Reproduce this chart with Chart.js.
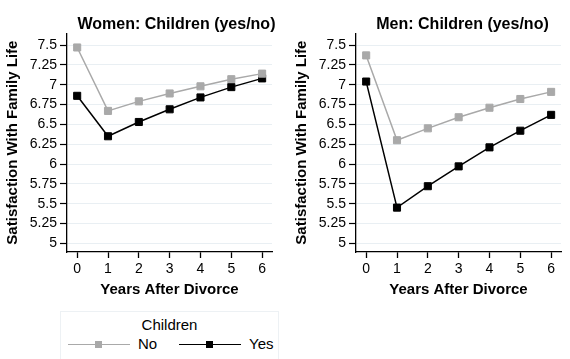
<!DOCTYPE html>
<html>
<head>
<meta charset="utf-8">
<script src="https://cdn.jsdelivr.net/npm/chart.js@4.4.1/dist/chart.umd.min.js"></script>
<style>
  body { margin: 0; background: #fff; width: 570px; height: 359px; overflow: hidden; position: relative;
         font-family: 'Liberation Sans', Arial, Helvetica, sans-serif; color: #000; }
  .panel { position: absolute; top: 0; width: 281px; height: 300px; }
  #legend { position: absolute; left: 60px; top: 311px; width: 219px; height: 60px;
            border: 1px solid #edf1f4; box-sizing: border-box; }
  #legend .ltitle { position: absolute; left: 0; width: 100%; top: 4px; text-align: center; font-size: 15px; }
  #legend .item { position: absolute; top: 23px; font-size: 15px; line-height: 18px; }
  #legend .line { position: absolute; top: 9px; width: 62px; height: 0; border-top: 1.5px solid; }
  #legend .mk { position: absolute; left: 27px; top: -4.5px; width: 7px; height: 7px; }
</style>
</head>
<body>
<div class="panel" style="left:0"><canvas id="women"></canvas></div>
<div class="panel" style="left:289px"><canvas id="men"></canvas></div>
<div id="legend"></div>

<script>
// data
const years = [0, 1, 2, 3, 4, 5, 6];
const yTicks = [5, 5.25, 5.5, 5.75, 6, 6.25, 6.5, 6.75, 7, 7.25, 7.5];
const seriesNames = ['No', 'Yes'];
const seriesColors = ['#a9a9a9', '#000000'];

const womenNo  = [7.47, 6.67, 6.79, 6.89, 6.98, 7.07, 7.14];
const womenYes = [6.86, 6.35, 6.53, 6.69, 6.84, 6.97, 7.08];
const menNo    = [7.37, 6.30, 6.45, 6.59, 6.71, 6.82, 6.91];
const menYes   = [7.04, 5.45, 5.72, 5.97, 6.21, 6.42, 6.62];

const FONT = "'Liberation Sans', Arial, Helvetica, sans-serif";

// nudge the title box sideways a little (the original titles sit right of centre)
const titleShift = {
  id: 'titleShift',
  afterLayout(chart, args, opts) {
    const tb = chart.titleBlock;
    if (tb && opts.dx) { tb.left += opts.dx; tb.right += opts.dx; }
  }
};

function toPoints(vals) {
  return vals.map((v, i) => ({ x: years[i], y: v }));
}

function makeDataset(i, vals) {
  return {
    label: seriesNames[i],
    data: toPoints(vals),
    borderColor: seriesColors[i],
    backgroundColor: seriesColors[i],
    borderWidth: 1.5,
    pointStyle: 'rect',
    pointRadius: 5,
    pointBorderWidth: 1,
    tension: 0
  };
}

function makeChart(id, title, noVals, yesVals, dx) {
  return new Chart(document.getElementById(id), {
    type: 'line',
    data: {
      datasets: [makeDataset(0, noVals), makeDataset(1, yesVals)]
    },
    plugins: [titleShift],
    options: {
      responsive: true,
      maintainAspectRatio: false,
      animation: false,
      layout: { padding: { left: 0, right: 9, top: 0, bottom: 0 } },
      plugins: {
        legend: { display: false },
        tooltip: { enabled: false },
        titleShift: { dx: dx },
        title: {
          display: true,
          text: title,
          fullSize: false,
          color: '#000',
          font: { family: FONT, size: 16, weight: 'bold' },
          padding: { top: 15, bottom: -1 }
        }
      },
      scales: {
        x: {
          type: 'linear',
          position: 'bottom',
          min: -0.33,
          max: 6.32,
          afterBuildTicks: s => { s.ticks = years.map(v => ({ value: v })); },
          afterFit: s => { s.height = 48; },
          grid: { drawOnChartArea: false, tickColor: '#000', tickLength: 6, tickWidth: 1.3 },
          border: { color: '#000', width: 1.3 },
          ticks: { color: '#000', padding: 3, maxRotation: 0, font: { family: FONT, size: 14 } },
          title: {
            display: true,
            text: 'Years After Divorce',
            color: '#000',
            font: { family: FONT, size: 15, weight: 'bold' },
            padding: { top: 0, bottom: 1 }
          }
        },
        y: {
          min: 4.89,
          max: 7.65,
          afterBuildTicks: s => { s.ticks = yTicks.map(v => ({ value: v })); },
          afterFit: s => { s.width = 67; },
          grid: { color: '#e9eff3', tickColor: '#000', tickLength: 7, tickWidth: 1.2 },
          border: { color: '#000', width: 1.3 },
          ticks: { color: '#000', padding: 3, font: { family: FONT, size: 14 }, callback: v => String(v) },
          title: {
            display: true,
            text: 'Satisfaction With Family Life',
            color: '#000',
            font: { family: FONT, size: 15, weight: 'bold' },
            padding: { top: 4, bottom: 0 }
          }
        }
      }
    }
  });
}

let women = makeChart('women', 'Women: Children (yes/no)', womenNo, womenYes, 7);
let men = makeChart('men', 'Men: Children (yes/no)', menNo, menYes, 4);

// legend, shared by both panels
const legend = document.getElementById('legend');
let html = '<div class="ltitle">Children</div>';
const itemLeft = [7, 118];
seriesNames.forEach((name, i) => {
  html += '<div class="item" style="left:' + itemLeft[i] + 'px">'
       + '<span class="line" style="left:0;border-color:' + seriesColors[i] + '">'
       + '<span class="mk" style="background:' + seriesColors[i] + '"></span></span>'
       + '<span style="position:absolute;left:70px;white-space:nowrap">' + name + '</span></div>';
});
legend.innerHTML = html;
</script>
</body>
</html>
